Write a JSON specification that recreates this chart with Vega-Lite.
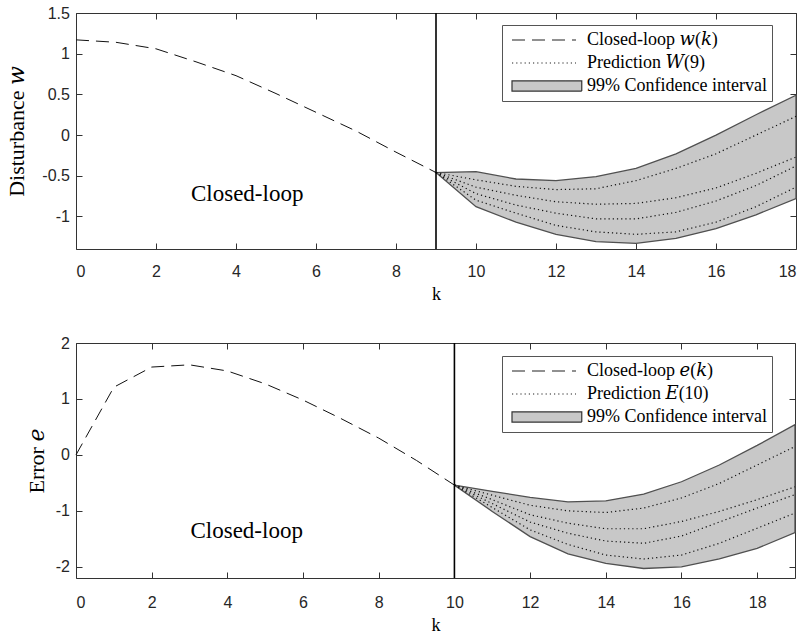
{
  "$schema": "https://vega.github.io/schema/vega-lite/v6.json",
  "background": "white",
  "padding": {"left": 5, "top": 4, "right": 5, "bottom": 5},
  "spacing": 94,
  "bounds": "flush",
  "config": {
    "view": {"stroke": "#333333", "strokeWidth": 1},
    "axis": {"domain": false, "grid": false, "tickColor": "#333333", "tickSize": -6, "tickWidth": 1,
             "labelFont": "Liberation Sans", "labelFontSize": 16, "labelColor": "#262626",
             "titleFont": "Liberation Serif, DejaVu Serif", "titleFontWeight": "normal", "titleColor": "#000000", "titleFontSize": 22},
    "legend": {"orient": "none", "title": null, "padding": 5, "strokeColor": "#555555", "fillColor": "#ffffff",
               "labelFont": "Liberation Serif, DejaVu Serif", "labelFontSize": 18, "labelColor": "#000000", "labelLimit": 400,
               "symbolSize": 4096, "symbolStrokeWidth": 1.2, "symbolStrokeColor": "#222222",
               "symbolOffset": 4, "labelOffset": 10, "clipHeight": 20, "rowPadding": 3}
  },
  "datasets": {
    "wcl": [
      {"k": 0, "v": 1.17}, {"k": 1, "v": 1.14}, {"k": 2, "v": 1.06}, {"k": 3, "v": 0.90}, {"k": 4, "v": 0.73},
      {"k": 5, "v": 0.51}, {"k": 6, "v": 0.28}, {"k": 7, "v": 0.05}, {"k": 8, "v": -0.21}, {"k": 9, "v": -0.46}
    ],
    "wci": [
      {"k": 9, "lo": -0.46, "hi": -0.46}, {"k": 10, "lo": -0.88, "hi": -0.45}, {"k": 11, "lo": -1.07, "hi": -0.54},
      {"k": 12, "lo": -1.22, "hi": -0.56}, {"k": 13, "lo": -1.31, "hi": -0.51}, {"k": 14, "lo": -1.33, "hi": -0.41},
      {"k": 15, "lo": -1.27, "hi": -0.23}, {"k": 16, "lo": -1.15, "hi": 0.0}, {"k": 17, "lo": -0.98, "hi": 0.25},
      {"k": 18, "lo": -0.78, "hi": 0.49}
    ],
    "wpr": [
      {"run": 1, "k": 9, "v": -0.46, "series": "Prediction 𝑊(9)"}, {"run": 1, "k": 10, "v": -0.55, "series": "Prediction 𝑊(9)"},
      {"run": 1, "k": 11, "v": -0.63, "series": "Prediction 𝑊(9)"}, {"run": 1, "k": 12, "v": -0.67, "series": "Prediction 𝑊(9)"},
      {"run": 1, "k": 13, "v": -0.66, "series": "Prediction 𝑊(9)"}, {"run": 1, "k": 14, "v": -0.56, "series": "Prediction 𝑊(9)"},
      {"run": 1, "k": 15, "v": -0.41, "series": "Prediction 𝑊(9)"}, {"run": 1, "k": 16, "v": -0.23, "series": "Prediction 𝑊(9)"},
      {"run": 1, "k": 17, "v": 0.0, "series": "Prediction 𝑊(9)"}, {"run": 1, "k": 18, "v": 0.23, "series": "Prediction 𝑊(9)"},
      {"run": 2, "k": 9, "v": -0.46, "series": "Prediction 𝑊(9)"}, {"run": 2, "k": 10, "v": -0.64, "series": "Prediction 𝑊(9)"},
      {"run": 2, "k": 11, "v": -0.74, "series": "Prediction 𝑊(9)"}, {"run": 2, "k": 12, "v": -0.82, "series": "Prediction 𝑊(9)"},
      {"run": 2, "k": 13, "v": -0.85, "series": "Prediction 𝑊(9)"}, {"run": 2, "k": 14, "v": -0.84, "series": "Prediction 𝑊(9)"},
      {"run": 2, "k": 15, "v": -0.77, "series": "Prediction 𝑊(9)"}, {"run": 2, "k": 16, "v": -0.65, "series": "Prediction 𝑊(9)"},
      {"run": 2, "k": 17, "v": -0.47, "series": "Prediction 𝑊(9)"}, {"run": 2, "k": 18, "v": -0.27, "series": "Prediction 𝑊(9)"},
      {"run": 3, "k": 9, "v": -0.46, "series": "Prediction 𝑊(9)"}, {"run": 3, "k": 10, "v": -0.72, "series": "Prediction 𝑊(9)"},
      {"run": 3, "k": 11, "v": -0.86, "series": "Prediction 𝑊(9)"}, {"run": 3, "k": 12, "v": -0.96, "series": "Prediction 𝑊(9)"},
      {"run": 3, "k": 13, "v": -1.03, "series": "Prediction 𝑊(9)"}, {"run": 3, "k": 14, "v": -1.03, "series": "Prediction 𝑊(9)"},
      {"run": 3, "k": 15, "v": -0.95, "series": "Prediction 𝑊(9)"}, {"run": 3, "k": 16, "v": -0.81, "series": "Prediction 𝑊(9)"},
      {"run": 3, "k": 17, "v": -0.62, "series": "Prediction 𝑊(9)"}, {"run": 3, "k": 18, "v": -0.38, "series": "Prediction 𝑊(9)"},
      {"run": 4, "k": 9, "v": -0.46, "series": "Prediction 𝑊(9)"}, {"run": 4, "k": 10, "v": -0.80, "series": "Prediction 𝑊(9)"},
      {"run": 4, "k": 11, "v": -0.96, "series": "Prediction 𝑊(9)"}, {"run": 4, "k": 12, "v": -1.11, "series": "Prediction 𝑊(9)"},
      {"run": 4, "k": 13, "v": -1.19, "series": "Prediction 𝑊(9)"}, {"run": 4, "k": 14, "v": -1.22, "series": "Prediction 𝑊(9)"},
      {"run": 4, "k": 15, "v": -1.19, "series": "Prediction 𝑊(9)"}, {"run": 4, "k": 16, "v": -1.07, "series": "Prediction 𝑊(9)"},
      {"run": 4, "k": 17, "v": -0.88, "series": "Prediction 𝑊(9)"}, {"run": 4, "k": 18, "v": -0.64, "series": "Prediction 𝑊(9)"}
    ],
    "wvl": [{"k": 9}],
    "wtxt": [{"k": 4.28, "v": -0.81, "label": "Closed-loop"}],
    "ecl": [
      {"k": 0, "v": 0.0}, {"k": 1, "v": 1.21}, {"k": 2, "v": 1.57}, {"k": 3, "v": 1.61}, {"k": 4, "v": 1.50},
      {"k": 5, "v": 1.27}, {"k": 6, "v": 0.98}, {"k": 7, "v": 0.65}, {"k": 8, "v": 0.30}, {"k": 9, "v": -0.10},
      {"k": 10, "v": -0.54}
    ],
    "eci": [
      {"k": 10, "lo": -0.54, "hi": -0.54}, {"k": 11, "lo": -1.01, "hi": -0.65}, {"k": 12, "lo": -1.46, "hi": -0.76},
      {"k": 13, "lo": -1.77, "hi": -0.84}, {"k": 14, "lo": -1.94, "hi": -0.82}, {"k": 15, "lo": -2.03, "hi": -0.70},
      {"k": 16, "lo": -2.00, "hi": -0.48}, {"k": 17, "lo": -1.86, "hi": -0.18}, {"k": 18, "lo": -1.67, "hi": 0.17},
      {"k": 19, "lo": -1.39, "hi": 0.54}
    ],
    "epr": [
      {"run": 1, "k": 10, "v": -0.54, "series": "Prediction 𝐸(10)"}, {"run": 1, "k": 11, "v": -0.72, "series": "Prediction 𝐸(10)"},
      {"run": 1, "k": 12, "v": -0.90, "series": "Prediction 𝐸(10)"}, {"run": 1, "k": 13, "v": -1.00, "series": "Prediction 𝐸(10)"},
      {"run": 1, "k": 14, "v": -1.03, "series": "Prediction 𝐸(10)"}, {"run": 1, "k": 15, "v": -0.95, "series": "Prediction 𝐸(10)"},
      {"run": 1, "k": 16, "v": -0.77, "series": "Prediction 𝐸(10)"}, {"run": 1, "k": 17, "v": -0.51, "series": "Prediction 𝐸(10)"},
      {"run": 1, "k": 18, "v": -0.18, "series": "Prediction 𝐸(10)"}, {"run": 1, "k": 19, "v": 0.15, "series": "Prediction 𝐸(10)"},
      {"run": 2, "k": 10, "v": -0.54, "series": "Prediction 𝐸(10)"}, {"run": 2, "k": 11, "v": -0.80, "series": "Prediction 𝐸(10)"},
      {"run": 2, "k": 12, "v": -1.07, "series": "Prediction 𝐸(10)"}, {"run": 2, "k": 13, "v": -1.22, "series": "Prediction 𝐸(10)"},
      {"run": 2, "k": 14, "v": -1.32, "series": "Prediction 𝐸(10)"}, {"run": 2, "k": 15, "v": -1.32, "series": "Prediction 𝐸(10)"},
      {"run": 2, "k": 16, "v": -1.19, "series": "Prediction 𝐸(10)"}, {"run": 2, "k": 17, "v": -1.01, "series": "Prediction 𝐸(10)"},
      {"run": 2, "k": 18, "v": -0.80, "series": "Prediction 𝐸(10)"}, {"run": 2, "k": 19, "v": -0.57, "series": "Prediction 𝐸(10)"},
      {"run": 3, "k": 10, "v": -0.54, "series": "Prediction 𝐸(10)"}, {"run": 3, "k": 11, "v": -0.87, "series": "Prediction 𝐸(10)"},
      {"run": 3, "k": 12, "v": -1.20, "series": "Prediction 𝐸(10)"}, {"run": 3, "k": 13, "v": -1.40, "series": "Prediction 𝐸(10)"},
      {"run": 3, "k": 14, "v": -1.54, "series": "Prediction 𝐸(10)"}, {"run": 3, "k": 15, "v": -1.58, "series": "Prediction 𝐸(10)"},
      {"run": 3, "k": 16, "v": -1.45, "series": "Prediction 𝐸(10)"}, {"run": 3, "k": 17, "v": -1.20, "series": "Prediction 𝐸(10)"},
      {"run": 3, "k": 18, "v": -0.95, "series": "Prediction 𝐸(10)"}, {"run": 3, "k": 19, "v": -0.71, "series": "Prediction 𝐸(10)"},
      {"run": 4, "k": 10, "v": -0.54, "series": "Prediction 𝐸(10)"}, {"run": 4, "k": 11, "v": -0.94, "series": "Prediction 𝐸(10)"},
      {"run": 4, "k": 12, "v": -1.34, "series": "Prediction 𝐸(10)"}, {"run": 4, "k": 13, "v": -1.60, "series": "Prediction 𝐸(10)"},
      {"run": 4, "k": 14, "v": -1.79, "series": "Prediction 𝐸(10)"}, {"run": 4, "k": 15, "v": -1.86, "series": "Prediction 𝐸(10)"},
      {"run": 4, "k": 16, "v": -1.79, "series": "Prediction 𝐸(10)"}, {"run": 4, "k": 17, "v": -1.58, "series": "Prediction 𝐸(10)"},
      {"run": 4, "k": 18, "v": -1.31, "series": "Prediction 𝐸(10)"}, {"run": 4, "k": 19, "v": -1.04, "series": "Prediction 𝐸(10)"}
    ],
    "evl": [{"k": 10}],
    "etxt": [{"k": 4.51, "v": -1.48, "label": "Closed-loop"}]
  },
  "vconcat": [
    {
      "width": 720,
      "height": 236,
      "resolve": {"axis": {"x": "independent", "y": "independent"}},
      "layer": [
        {
          "data": {"name": "wci"},
          "mark": {"type": "area", "fill": "#c8c8c8", "fillOpacity": 1, "stroke": "#505050", "strokeWidth": 1.3},
          "encoding": {
            "x": {"field": "k", "type": "quantitative", "scale": {"domain": [0, 18], "nice": false, "zero": false},
                  "axis": {"orient": "bottom", "values": [0, 2, 4, 6, 8, 10, 12, 14, 16, 18], "title": "k", "titleFontSize": 18, "labelPadding": 20, "titlePadding": 6}},
            "y": {"field": "lo", "type": "quantitative", "scale": {"domain": [-1.4, 1.5], "nice": false, "zero": false},
                  "axis": {"orient": "left", "values": [-1, -0.5, 0, 0.5, 1, 1.5], "labelExpr": "'' + datum.value", "title": "Disturbance 𝑤", "labelPadding": 12.6, "titlePadding": 13}},
            "y2": {"field": "hi"}
          }
        },
        {
          "data": {"name": "wpr"},
          "mark": {"type": "line", "stroke": "#111111", "strokeWidth": 1.2},
          "encoding": {
            "x": {"field": "k", "type": "quantitative", "axis": {"orient": "top", "values": [0, 2, 4, 6, 8, 10, 12, 14, 16, 18], "labels": false, "title": null}},
            "y": {"field": "v", "type": "quantitative", "axis": {"orient": "right", "values": [-1, -0.5, 0, 0.5, 1, 1.5], "labels": false, "title": null}},
            "detail": {"field": "run", "type": "nominal"},
            "strokeDash": {
              "field": "series", "type": "nominal",
              "scale": {"domain": ["Closed-loop 𝑤(𝑘)", "Prediction 𝑊(9)", "99% Confidence interval"], "range": [[13, 7], [1.2, 3], [1, 0]]},
              "legend": {
                "legendX": 426, "legendY": 12,
                "labelFont": "Liberation Serif, DejaVu Serif", "labelFontSize": 18, "labelColor": "#000000",
                "encode": {
                  "symbols": {"update": {
                    "shape": {"signal": "datum.value === '99% Confidence interval' ? 'M-1,-0.16H1.18V0.16H-1Z' : 'M-1,0H1'"},
                    "fill": {"signal": "datum.value === '99% Confidence interval' ? '#c8c8c8' : 'transparent'"},
                    "stroke": {"signal": "datum.value === '99% Confidence interval' ? '#333333' : '#222222'"}
                  }}
                }
              }
            }
          }
        },
        {
          "data": {"name": "wcl"},
          "mark": {"type": "line", "stroke": "#111111", "strokeWidth": 1, "strokeDash": [13, 7]},
          "encoding": {
            "x": {"field": "k", "type": "quantitative", "axis": null},
            "y": {"field": "v", "type": "quantitative", "axis": null}
          }
        },
        {
          "data": {"name": "wvl"},
          "mark": {"type": "rule", "stroke": "#000000", "strokeWidth": 1.6},
          "encoding": {"x": {"field": "k", "type": "quantitative", "axis": null}}
        },
        {
          "data": {"name": "wtxt"},
          "mark": {"type": "text", "font": "Liberation Serif", "fontSize": 23, "align": "center", "baseline": "alphabetic", "color": "#000000"},
          "encoding": {
            "x": {"field": "k", "type": "quantitative", "axis": null},
            "y": {"field": "v", "type": "quantitative", "axis": null},
            "text": {"field": "label"}
          }
        }
      ]
    },
    {
      "width": 719,
      "height": 235,
      "resolve": {"axis": {"x": "independent", "y": "independent"}},
      "layer": [
        {
          "data": {"name": "eci"},
          "mark": {"type": "area", "fill": "#c8c8c8", "fillOpacity": 1, "stroke": "#505050", "strokeWidth": 1.3},
          "encoding": {
            "x": {"field": "k", "type": "quantitative", "scale": {"domain": [0, 19], "nice": false, "zero": false},
                  "axis": {"orient": "bottom", "values": [0, 2, 4, 6, 8, 10, 12, 14, 16, 18], "title": "k", "titleFontSize": 18, "labelPadding": 22, "titlePadding": 6}},
            "y": {"field": "lo", "type": "quantitative", "scale": {"domain": [-2.2, 2], "nice": false, "zero": false},
                  "axis": {"orient": "left", "values": [-2, -1, 0, 1, 2], "labelExpr": "'' + datum.value", "title": "Error 𝑒", "labelPadding": 12.6, "titlePadding": 7}},
            "y2": {"field": "hi"}
          }
        },
        {
          "data": {"name": "epr"},
          "mark": {"type": "line", "stroke": "#111111", "strokeWidth": 1.2},
          "encoding": {
            "x": {"field": "k", "type": "quantitative", "axis": {"orient": "top", "values": [0, 2, 4, 6, 8, 10, 12, 14, 16, 18], "labels": false, "title": null}},
            "y": {"field": "v", "type": "quantitative", "axis": {"orient": "right", "values": [-2, -1, 0, 1, 2], "labels": false, "title": null}},
            "detail": {"field": "run", "type": "nominal"},
            "strokeDash": {
              "field": "series", "type": "nominal",
              "scale": {"domain": ["Closed-loop 𝑒(𝑘)", "Prediction 𝐸(10)", "99% Confidence interval"], "range": [[13, 7], [1.2, 3], [1, 0]]},
              "legend": {
                "legendX": 426, "legendY": 13,
                "labelFont": "Liberation Serif, DejaVu Serif", "labelFontSize": 18, "labelColor": "#000000",
                "encode": {
                  "symbols": {"update": {
                    "shape": {"signal": "datum.value === '99% Confidence interval' ? 'M-1,-0.16H1.18V0.16H-1Z' : 'M-1,0H1'"},
                    "fill": {"signal": "datum.value === '99% Confidence interval' ? '#c8c8c8' : 'transparent'"},
                    "stroke": {"signal": "datum.value === '99% Confidence interval' ? '#333333' : '#222222'"}
                  }}
                }
              }
            }
          }
        },
        {
          "data": {"name": "ecl"},
          "mark": {"type": "line", "stroke": "#111111", "strokeWidth": 1, "strokeDash": [13, 7]},
          "encoding": {
            "x": {"field": "k", "type": "quantitative", "axis": null},
            "y": {"field": "v", "type": "quantitative", "axis": null}
          }
        },
        {
          "data": {"name": "evl"},
          "mark": {"type": "rule", "stroke": "#000000", "strokeWidth": 1.6},
          "encoding": {"x": {"field": "k", "type": "quantitative", "axis": null}}
        },
        {
          "data": {"name": "etxt"},
          "mark": {"type": "text", "font": "Liberation Serif", "fontSize": 23, "align": "center", "baseline": "alphabetic", "color": "#000000"},
          "encoding": {
            "x": {"field": "k", "type": "quantitative", "axis": null},
            "y": {"field": "v", "type": "quantitative", "axis": null},
            "text": {"field": "label"}
          }
        }
      ]
    }
  ],
  "resolve": {"scale": {"strokeDash": "independent"}, "legend": {"strokeDash": "independent"}}
}
